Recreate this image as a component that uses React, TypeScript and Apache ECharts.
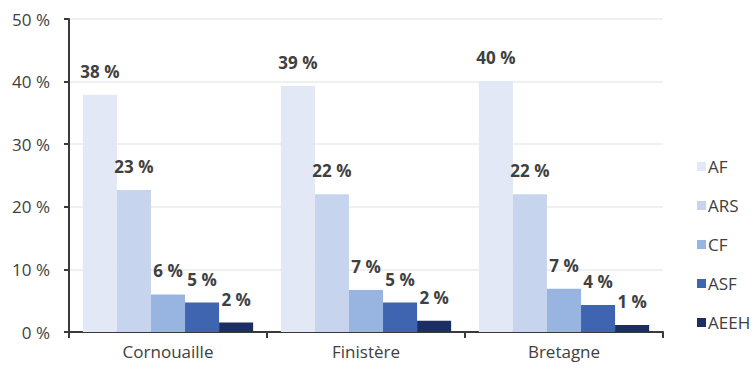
import React, { useEffect, useRef } from "react";
import * as echarts from "echarts";

const categories = ["Cornouaille", "Finistère", "Bretagne"];
const seriesNames = ["AF", "ARS", "CF", "ASF", "AEEH"];
const afValues = [37.9, 39.3, 40.1];
const arsValues = [22.7, 22.0, 22.0];
const cfValues = [6.0, 6.7, 6.9];
const asfValues = [4.7, 4.7, 4.3];
const aeehValues = [1.5, 1.8, 1.1];
const colors = ["#e2e8f5", "#c6d5ed", "#97b5e0", "#3f64b0", "#1b2f63"];
const yTicks = [0, 10, 20, 30, 40, 50];

export default function App() {
  const ref = useRef<HTMLDivElement>(null);
  useEffect(() => {
    if (!ref.current) return;
    const chart = echarts.init(ref.current, undefined, { renderer: "svg" });
    const allValues = [afValues, arsValues, cfValues, asfValues, aeehValues];
    const font = "'Open Sans', 'Noto Sans', sans-serif";
    chart.setOption({
      animation: false,
      textStyle: { fontFamily: font },
      grid: { left: 69, right: 92, top: 19, bottom: 38 },
      legend: {
        orient: "vertical",
        left: 692,
        top: 153,
        itemWidth: 9,
        itemHeight: 9,
        itemGap: 22,
        icon: "rect",
        data: seriesNames,
        textStyle: { fontFamily: font, fontSize: 17, lineHeight: 17, color: "#404040", padding: [0, 0, 0, -3] },
      },
      xAxis: {
        type: "category",
        data: categories,
        axisLine: { lineStyle: { color: "#3a3a3a", width: 2 } },
        axisTick: { show: true, length: 6, lineStyle: { color: "#3a3a3a", width: 2 } },
        axisLabel: { fontFamily: font, fontSize: 17, color: "#404040", margin: 11 },
      },
      yAxis: {
        type: "value",
        min: yTicks[0],
        max: yTicks[yTicks.length - 1],
        interval: 10,
        axisLine: { show: true, lineStyle: { color: "#3a3a3a", width: 2 } },
        axisTick: { show: true, length: 5, lineStyle: { color: "#3a3a3a", width: 2 } },
        axisLabel: {
          fontFamily: font,
          fontSize: 17,
          color: "#404040",
          margin: 19,
          formatter: (v: number) => v + " %",
        },
        splitLine: { lineStyle: { color: "#ebebeb", width: 1.5 } },
      },
      series: seriesNames.map((name, i) => ({
        name,
        type: "bar",
        data: allValues[i],
        barGap: "0%",
        barCategoryGap: "14%",
        itemStyle: { color: colors[i] },
        label: {
          show: true,
          position: "top",
          distance: 15,
          fontFamily: font,
          fontSize: 17,
          fontWeight: "bold",
          color: "#404040",
          formatter: (p: any) => Math.round(p.value) + " %",
        },
      })),
    });
    return () => chart.dispose();
  }, []);
  return <div ref={ref} style={{ width: 755, height: 370, position: "absolute", left: 0, top: 0 }} />;
}
